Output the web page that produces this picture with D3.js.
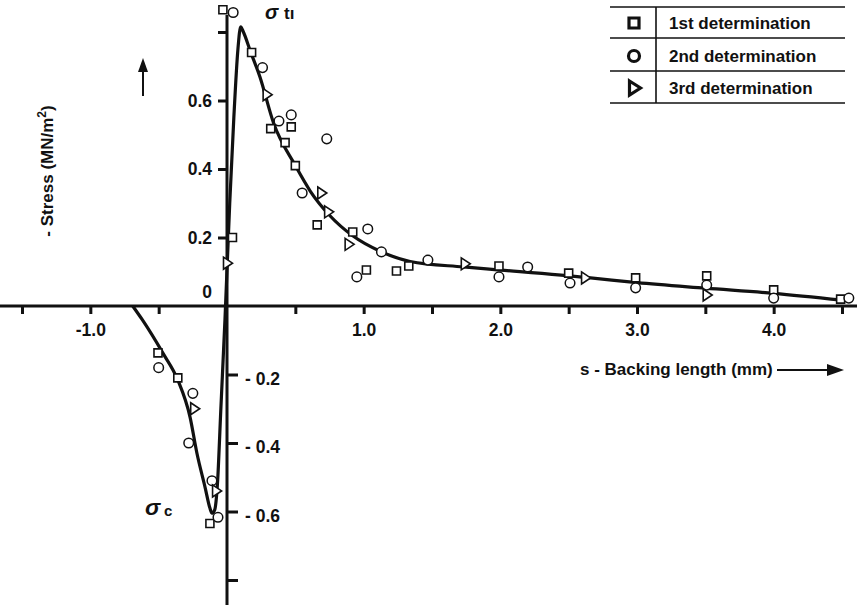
<!DOCTYPE html>
<html><head><meta charset="utf-8">
<script src="https://cdn.jsdelivr.net/npm/d3@7"></script>
<style>
body{margin:0;background:#fff}
text{font-family:"Liberation Sans",Arial,sans-serif;font-weight:bold;fill:#111}
</style>
</head><body>
<svg id="c" width="859" height="609"></svg>
<script>
// ---- data ----
const xTickValues = [-1.5,-1,-0.5,0.5,1,1.5,2,2.5,3,3.5,4,4.5];
const xTickLabels = ["","-1.0","","","1.0","","2.0","","3.0","","4.0",""];
const yPosTicks = [0.2,0.4,0.6,0.8];
const yPosLabels = ["0.2","0.4","0.6",""];
const yNegTicks = [-0.2,-0.4,-0.6,-0.8];
const yNegLabels = ["- 0.2","- 0.4","- 0.6",""];
const seriesNames = ["1st determination","2nd determination","3rd determination"];

// 1st determination (squares): [s, stress]
const first = [[-0.03,0.865],[0.04,0.20],[0.18,0.74],[0.32,0.518],[0.47,0.523],[0.425,0.477],[0.50,0.41],[0.66,0.237],[0.92,0.216],[1.02,0.105],[1.24,0.102],[1.33,0.117],[1.99,0.117],[2.50,0.096],[2.99,0.082],[3.51,0.088],[4.0,0.047],[4.49,0.02],[-0.505,-0.137],[-0.36,-0.21],[-0.125,-0.635]];
// 2nd determination (circles)
const second = [[0.045,0.857],[0.26,0.696],[0.38,0.54],[0.47,0.558],[0.73,0.488],[0.55,0.33],[1.03,0.225],[1.13,0.158],[0.95,0.085],[1.47,0.134],[1.99,0.085],[2.2,0.114],[2.51,0.067],[2.99,0.053],[3.51,0.061],[4.0,0.023],[4.55,0.023],[-0.50,-0.18],[-0.25,-0.255],[-0.28,-0.40],[-0.11,-0.51],[-0.066,-0.617]];
// 3rd determination (triangles)
const third = [[0.0,0.125],[0.29,0.617],[0.69,0.33],[0.74,0.275],[0.89,0.18],[1.74,0.123],[2.62,0.082],[3.51,0.032],[-0.24,-0.30],[-0.08,-0.54]];
// fitted curve
const curve = [[-0.69,0],[-0.62,-0.04],[-0.47,-0.137],[-0.36,-0.216],[-0.27,-0.325],[-0.22,-0.43],[-0.16,-0.53],[-0.125,-0.59],[-0.11,-0.605],[-0.09,-0.595],[-0.07,-0.52],[-0.045,-0.3],[-0.015,-0.04],[0.02,0.3],[0.05,0.55],[0.08,0.75],[0.10,0.815],[0.12,0.80],[0.17,0.745],[0.24,0.67],[0.34,0.535],[0.5,0.41],[0.61,0.335],[0.75,0.265],[0.92,0.205],[1.12,0.16],[1.34,0.13],[1.73,0.114],[2.0,0.105],[2.66,0.082],[3.0,0.068],[3.5,0.052],[4.0,0.037],[4.5,0.017]];

// ---- drawing ----
const svg = d3.select("#c");
const ink = "#111";
const x = d3.scaleLinear().domain([-1.5,4.5]).range([22,842]);
const y = d3.scaleLinear().domain([-0.8,0.8]).range([580,32]);

// x axis
svg.append("line").attr("x1",0).attr("x2",857).attr("y1",y(0)).attr("y2",y(0))
  .attr("stroke",ink).attr("stroke-width",3);
const gx = svg.append("g").attr("transform",`translate(0,${y(0)})`)
  .call(d3.axisBottom(x).tickValues(xTickValues).tickSize(8).tickPadding(10)
    .tickFormat(d => xTickLabels[xTickValues.indexOf(d)]));
gx.select(".domain").remove();
gx.selectAll(".tick line").attr("stroke",ink).attr("stroke-width",3);
gx.selectAll(".tick text").style("font-size","17.5px");

// y axis
svg.append("line").attr("x1",x(0)).attr("x2",x(0)).attr("y1",15).attr("y2",605)
  .attr("stroke",ink).attr("stroke-width",3);
const gyp = svg.append("g").attr("transform",`translate(${x(0)},0)`)
  .call(d3.axisLeft(y).tickValues(yPosTicks).tickSize(9).tickPadding(6)
    .tickFormat(d => yPosLabels[yPosTicks.indexOf(d)]));
gyp.select(".domain").remove();
gyp.selectAll(".tick line").attr("stroke",ink).attr("stroke-width",3);
gyp.selectAll(".tick text").style("font-size","17.5px");
const gyn = svg.append("g").attr("transform",`translate(${x(0)},0)`)
  .call(d3.axisRight(y).tickValues(yNegTicks).tickSize(11).tickPadding(7)
    .tickFormat(d => yNegLabels[yNegTicks.indexOf(d)]));
gyn.select(".domain").remove();
gyn.selectAll(".tick line").attr("stroke",ink).attr("stroke-width",3);
gyn.selectAll(".tick text").style("font-size","17.5px").attr("dy","0.55em");
svg.append("text").attr("x",x(0)-15).attr("y",y(0)-8).attr("text-anchor","end")
  .style("font-size","17.5px").text("0");

// curve
svg.append("path").datum(curve)
  .attr("d", d3.line().x(d=>x(d[0])).y(d=>y(d[1])).curve(d3.curveMonotoneX))
  .attr("fill","none").attr("stroke",ink).attr("stroke-width",3.2).attr("stroke-linejoin","round");

// markers
function sq(s){return `M${-s/2},${-s/2}h${s}v${s}h${-s}Z`;}
function tri(w,h){return `M${-w/2},${-h/2}L${w/2},0L${-w/2},${h/2}Z`;}
svg.append("g").selectAll("path").data(first).join("path")
  .attr("transform",d=>`translate(${x(d[0])},${y(d[1])})`).attr("d",sq(8))
  .attr("fill","#fff").attr("stroke",ink).attr("stroke-width",1.6);
svg.append("g").selectAll("circle").data(second).join("circle")
  .attr("cx",d=>x(d[0])).attr("cy",d=>y(d[1])).attr("r",4.8)
  .attr("fill","#fff").attr("stroke",ink).attr("stroke-width",1.5);
svg.append("g").selectAll("path").data(third).join("path")
  .attr("transform",d=>`translate(${x(d[0])+1},${y(d[1])})`).attr("d",tri(9,12))
  .attr("fill","#fff").attr("stroke",ink).attr("stroke-width",1.6);

// legend
const lg = svg.append("g");
[7,38,71,103].forEach(v=>lg.append("line").attr("x1",610).attr("x2",845).attr("y1",v).attr("y2",v)
  .attr("stroke",ink).attr("stroke-width",1.6));
lg.append("line").attr("x1",656).attr("x2",656).attr("y1",7).attr("y2",103).attr("stroke",ink).attr("stroke-width",1.6);
const rowY = [23,56,88];
lg.append("path").attr("transform",`translate(634,${rowY[0]})`).attr("d",sq(10))
  .attr("fill","#fff").attr("stroke",ink).attr("stroke-width",3.2);
lg.append("circle").attr("cx",634).attr("cy",rowY[1]).attr("r",5.5)
  .attr("fill","#fff").attr("stroke",ink).attr("stroke-width",3.2);
lg.append("path").attr("transform",`translate(635,${rowY[2]})`).attr("d",tri(11,14))
  .attr("fill","#fff").attr("stroke",ink).attr("stroke-width",3.2).attr("stroke-linejoin","miter");
seriesNames.forEach((n,i)=>lg.append("text").attr("x",669).attr("y",rowY[i]+6)
  .style("font-size","17px").text(n));

// axis titles
const yt = svg.append("text").attr("transform","translate(53,171) rotate(-90)")
  .attr("text-anchor","middle").style("font-size","17px");
yt.append("tspan").text("- Stress (MN/m");
yt.append("tspan").attr("baseline-shift","super").style("font-size","12px").text("2");
yt.append("tspan").text(")");
svg.append("line").attr("x1",143).attr("x2",143).attr("y1",96).attr("y2",70).attr("stroke",ink).attr("stroke-width",2);
svg.append("path").attr("d","M138,72L143,58L148,72Z").attr("fill",ink);

svg.append("text").attr("x",580).attr("y",375).style("font-size","17px").text("s - Backing length (mm)");
svg.append("line").attr("x1",777).attr("x2",830).attr("y1",370).attr("y2",370).attr("stroke",ink).attr("stroke-width",2);
svg.append("path").attr("d","M827,364L844,370L827,376Z").attr("fill",ink);

// annotations
svg.append("text").attr("x",265).attr("y",19).style("font-size","20px").style("font-style","italic").text("σ");
svg.append("text").attr("x",284).attr("y",19).style("font-size","17px").text("tı");
svg.append("text").attr("x",145).attr("y",515).style("font-size","23px").style("font-style","italic").text("σ");
svg.append("text").attr("x",164).attr("y",516).style("font-size","15px").text("c");
</script>
</body></html>
